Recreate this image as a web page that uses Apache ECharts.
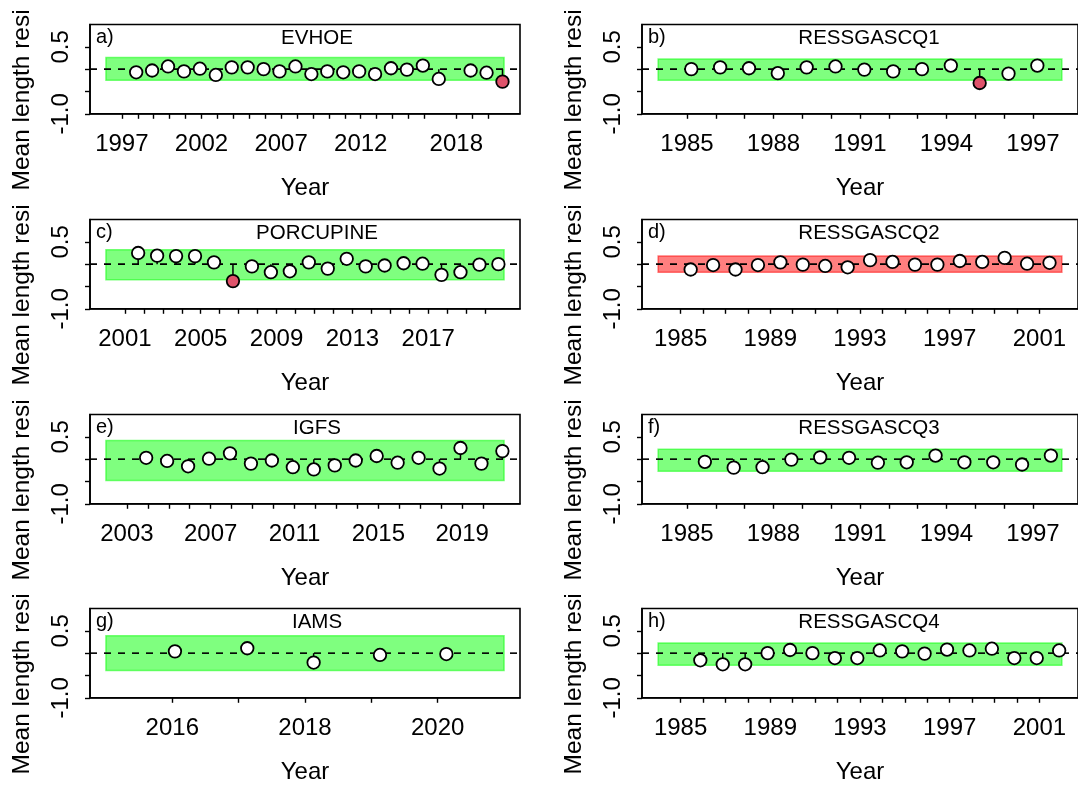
<!DOCTYPE html>
<html>
<head>
<meta charset="utf-8">
<script src="https://cdn.jsdelivr.net/npm/echarts@6/dist/echarts.min.js"></script>
<style>
html,body{margin:0;padding:0;background:#fff;}
#chart{width:1078px;height:787px;}
</style>
</head>
<body>
<div id="chart"></div>
<script>
// ---------------- DATA ----------------
const panelNames = ['EVHOE','RESSGASCQ1','PORCUPINE','RESSGASCQ2','IGFS','RESSGASCQ3','IAMS','RESSGASCQ4'];
const panelLetters = ['a)','b)','c)','d)','e)','f)','g)','h)'];

// survey years (axis ticks)
const evhoeYears = [1997,1998,1999,2000,2001,2002,2003,2004,2005,2006,2007,2008,2009,2010,2011,2012,2013,2014,2015,2016,2018,2019,2020];
const q1Years = [1985,1986,1987,1988,1989,1990,1991,1992,1993,1994,1995,1996,1997];
const porcYears = [2001,2002,2003,2004,2005,2006,2007,2008,2009,2010,2011,2012,2013,2014,2015,2016,2017,2018,2019,2020];
const q2Years = [1985,1986,1987,1988,1989,1990,1991,1992,1993,1994,1995,1996,1997,1998,1999,2000,2001];
const igfsYears = [2003,2004,2005,2006,2007,2008,2009,2010,2011,2012,2013,2014,2015,2016,2017,2018,2019,2020];
const q3Years = [1985,1986,1987,1988,1989,1990,1991,1992,1993,1994,1995,1996,1997];
const iamsYears = [2016,2017,2018,2019,2020];
const q4Years = [1985,1986,1987,1988,1989,1990,1991,1992,1993,1994,1995,1996,1997,1998,1999,2000,2001];

// survey times (point positions)
const evhoeTimes = [1997.9,1998.9,1999.9,2000.9,2001.9,2002.9,2003.9,2004.9,2005.9,2006.9,2007.9,2008.9,2009.9,2010.9,2011.9,2012.9,2013.9,2014.9,2015.9,2016.9,2018.9,2019.9,2020.9];
const q1Times = [1985.15,1986.15,1987.15,1988.15,1989.15,1990.15,1991.15,1992.15,1993.15,1994.15,1995.15,1996.15,1997.15];
const porcTimes = [2001.7,2002.7,2003.7,2004.7,2005.7,2006.7,2007.7,2008.7,2009.7,2010.7,2011.7,2012.7,2013.7,2014.7,2015.7,2016.7,2017.7,2018.7,2019.7,2020.7];
const q2Times = [1985.45,1986.45,1987.45,1988.45,1989.45,1990.45,1991.45,1992.45,1993.45,1994.45,1995.45,1996.45,1997.45,1998.45,1999.45,2000.45,2001.45];
const igfsTimes = [2003.92,2004.92,2005.92,2006.92,2007.92,2008.92,2009.92,2010.92,2011.92,2012.92,2013.92,2014.92,2015.92,2016.92,2017.92,2018.92,2019.92,2020.92];
const q3Times = [1985.62,1986.62,1987.62,1988.62,1989.62,1990.62,1991.62,1992.62,1993.62,1994.62,1995.62,1996.62,1997.62];
const iamsTimes = [2016.04,2017.13,2018.13,2019.13,2020.13];
const q4Times = [1985.88,1986.88,1987.88,1988.88,1989.88,1990.88,1991.88,1992.88,1993.88,1994.88,1995.88,1996.88,1997.88,1998.88,1999.88,2000.88,2001.88];

// residuals
const evhoeResid = [-0.07,-0.03,0.06,-0.05,0.01,-0.13,0.04,0.04,0.00,-0.05,0.06,-0.11,-0.05,-0.07,-0.05,-0.11,0.02,-0.01,0.08,-0.22,-0.03,-0.08,-0.28];
const q1Resid = [0.00,0.04,0.02,-0.09,0.04,0.06,-0.01,-0.05,0.00,0.08,-0.31,-0.10,0.08];
const porcResid = [0.25,0.19,0.18,0.18,0.04,-0.38,-0.05,-0.18,-0.16,0.04,-0.10,0.12,-0.05,-0.03,0.02,0.01,-0.24,-0.18,-0.01,0.00];
const q2Resid = [-0.12,-0.02,-0.12,-0.02,0.04,-0.01,-0.04,-0.07,0.09,0.05,-0.01,-0.01,0.07,0.05,0.14,0.01,0.03];
const igfsResid = [0.03,-0.04,-0.16,0.01,0.13,-0.10,-0.03,-0.18,-0.23,-0.14,-0.03,0.07,-0.08,0.03,-0.21,0.25,-0.10,0.18];
const q3Resid = [-0.06,-0.19,-0.18,-0.01,0.04,0.03,-0.08,-0.07,0.08,-0.07,-0.07,-0.12,0.08];
const iamsResid = [0.04,0.11,-0.21,-0.04,-0.02];
const q4Resid = [-0.16,-0.25,-0.25,0.00,0.07,0.00,-0.11,-0.11,0.06,0.04,-0.01,0.08,0.06,0.10,-0.11,-0.11,0.06];

// labelled years on x axes
const evhoeLabels = [1997,2002,2007,2012,2018];
const q1Labels = [1985,1988,1991,1994,1997];
const porcLabels = [2001,2005,2009,2013,2017];
const q2Labels = [1985,1989,1993,1997,2001];
const igfsLabels = [2003,2007,2011,2015,2019];
const q3Labels = [1985,1988,1991,1994,1997];
const iamsLabels = [2016,2018,2020];
const q4Labels = [1985,1989,1993,1997,2001];

// 3-sigma limits [lower, upper] and box year span
const sigLimits = [[-0.25,0.26],[-0.25,0.23],[-0.35,0.32],[-0.18,0.18],[-0.48,0.42],[-0.27,0.22],[-0.39,0.39],[-0.27,0.23]];
const boxSpans = [[1996,2021],[1984,1998],[2000,2021],[1984,2002],[2002,2021],[1984,1998],[2015,2021],[1984,2002]];
// runs test passed?
const runsPass = [true,true,true,false,true,true,true,true];

// y axis
const yTickValues = [-1,-0.5,0,0.5];
const yLabelValues = [-1,0.5];

const yearsList = [evhoeYears,q1Years,porcYears,q2Years,igfsYears,q3Years,iamsYears,q4Years];
const timesList = [evhoeTimes,q1Times,porcTimes,q2Times,igfsTimes,q3Times,iamsTimes,q4Times];
const residList = [evhoeResid,q1Resid,porcResid,q2Resid,igfsResid,q3Resid,iamsResid,q4Resid];
const labelList = [evhoeLabels,q1Labels,porcLabels,q2Labels,igfsLabels,q3Labels,iamsLabels,q4Labels];

// ---------------- LAYOUT ----------------
const FONT = '"Liberation Sans", Arial, sans-serif';
const colFrame = [[90, 520], [642, 1083]];
const rowTop = [24.5, 219.5, 414.5, 608.5];
const frameH = 89.3;

const chart = echarts.init(document.getElementById('chart'), null, {renderer: 'canvas'});

const grids = [], xAxes = [], yAxes = [], series = [], graphics = [];

for (let i = 0; i < 8; i++) {
  const col = i % 2, row = Math.floor(i / 2);
  const fl = colFrame[col][0], fr = colFrame[col][1];
  const top = rowTop[row];
  const span = boxSpans[i];
  const ext = 0.04 * (span[1] - span[0]);
  const xmin = span[0] - ext, xmax = span[1] + ext;

  grids.push({
    left: fl, top: top, width: fr - fl, height: frameH,
    show: true, borderColor: '#000', borderWidth: 1.6, backgroundColor: 'transparent',
    containLabel: false
  });

  xAxes.push({
    type: 'value', gridIndex: i, min: xmin, max: xmax,
    name: 'Year', nameLocation: 'middle', nameGap: 63,
    nameTextStyle: {fontSize: 24, color: '#000', fontFamily: FONT},
    axisLine: {show: true, onZero: false, lineStyle: {color: '#000', width: 1.6}},
    axisTick: {show: true, customValues: yearsList[i], length: 5, lineStyle: {color: '#000', width: 1.4}},
    axisLabel: {show: true, customValues: labelList[i], formatter: v => String(v),
      fontSize: 24, color: '#000', fontFamily: FONT, margin: 19},
    splitLine: {show: false}
  });

  yAxes.push({
    type: 'value', gridIndex: i, min: -1, max: 1,
    axisLine: {show: true, onZero: false, lineStyle: {color: '#000', width: 1.6}},
    axisTick: {show: true, customValues: yTickValues, length: 5, lineStyle: {color: '#000', width: 1.4}},
    axisLabel: {show: true, customValues: yLabelValues, rotate: 90, formatter: v => v.toFixed(1),
      fontSize: 24, color: '#000', fontFamily: FONT, margin: 17},
    splitLine: {show: false}
  });

  const lims = sigLimits[i];
  const fillCol = runsPass[i] ? 'rgba(0,255,0,0.5)' : 'rgba(255,0,0,0.5)';

  // shaded 3-sigma box
  series.push({
    type: 'custom', xAxisIndex: i, yAxisIndex: i, z: 1, silent: true,
    data: [[span[0], span[1], lims[0], lims[1]]],
    encode: {x: [0, 1], y: [2, 3]},
    renderItem: function (params, api) {
      const p0 = api.coord([api.value(0), api.value(3)]);
      const p1 = api.coord([api.value(1), api.value(2)]);
      return {type: 'rect', shape: {x: p0[0], y: p0[1], width: p1[0] - p0[0], height: p1[1] - p0[1]},
        style: {fill: fillCol, stroke: fillCol, lineWidth: 1.5}};
    }
  });

  // dashed zero line
  series.push({
    type: 'custom', xAxisIndex: i, yAxisIndex: i, z: 2, silent: true,
    data: [[xmin, 0]],
    renderItem: function (params, api) {
      const cs = params.coordSys;
      const p = api.coord([api.value(0), 0]);
      return {type: 'line', shape: {x1: cs.x, y1: p[1], x2: cs.x + cs.width, y2: p[1]},
        style: {stroke: '#000', lineWidth: 1.6, lineDash: [7, 7]}};
    }
  });

  const times = timesList[i], res = residList[i];
  const pts = times.map((t, k) => [t, res[k]]);

  // stems
  series.push({
    type: 'custom', xAxisIndex: i, yAxisIndex: i, z: 3, silent: true,
    data: pts,
    renderItem: function (params, api) {
      const a = api.coord([api.value(0), 0]);
      const b = api.coord([api.value(0), api.value(1)]);
      return {type: 'line', shape: {x1: a[0], y1: a[1], x2: b[0], y2: b[1]},
        style: {stroke: '#000', lineWidth: 1.5}};
    }
  });

  // points
  series.push({
    type: 'scatter', xAxisIndex: i, yAxisIndex: i, z: 4, silent: true,
    symbol: 'circle', symbolSize: 12.5,
    data: pts.map(p => ({
      value: p,
      itemStyle: {color: (p[1] < lims[0] || p[1] > lims[1]) ? '#DF536B' : '#FFFFFF'}
    })),
    itemStyle: {borderColor: '#000', borderWidth: 1.8, opacity: 1}
  });

  // panel title, letter, y label
  graphics.push({type: 'text', x: col === 0 ? 317 : 869, y: top + 14, silent: true,
    style: {text: panelNames[i], textAlign: 'center', textVerticalAlign: 'middle', fill: '#000',
      font: '20.5px ' + FONT}});
  graphics.push({type: 'text', x: fl + 6, y: top + 13, silent: true,
    style: {text: panelLetters[i], textAlign: 'left', textVerticalAlign: 'middle', fill: '#000',
      font: '20px ' + FONT}});
  graphics.push({type: 'text', x: fl - 68, y: top + 166, rotation: Math.PI / 2, silent: true,
    style: {text: 'Mean length resi', textAlign: 'left', textVerticalAlign: 'middle', fill: '#000',
      font: '24.5px ' + FONT}});
}

chart.setOption({
  animation: false,
  backgroundColor: '#fff',
  grid: grids,
  xAxis: xAxes,
  yAxis: yAxes,
  series: series,
  graphic: {elements: graphics}
});
</script>
</body>
</html>
